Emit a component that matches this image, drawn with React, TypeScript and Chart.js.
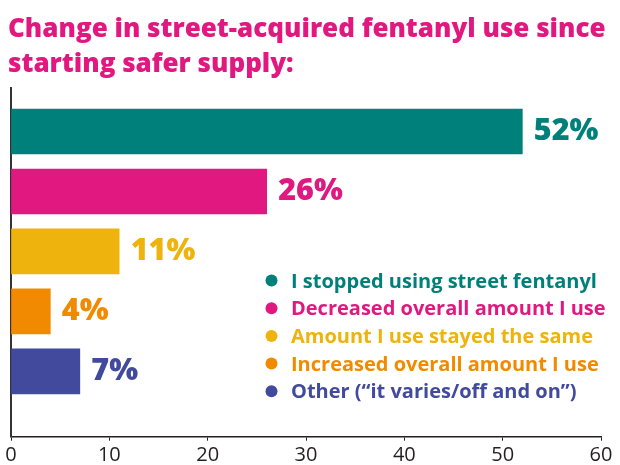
import React, { useEffect, useRef } from "react";
import { Chart, registerables } from "chart.js";

Chart.register(...registerables);

const titleLines = ["Change in street-acquired fentanyl use since", "starting safer supply:"];
const categories = [
  "I stopped using street fentanyl",
  "Decreased overall amount I use",
  "Amount I use stayed the same",
  "Increased overall amount I use",
  "Other (\u201cit varies/off and on\u201d)",
];
const values = [52, 26, 11, 4, 7];
const colors = ["#00807B", "#E1187F", "#EEB30C", "#F28A00", "#414A9C"];
const xTicks = [0, 10, 20, 30, 40, 50, 60];

const FONT = "'Open Sans', sans-serif";
const AXIS_COLOR = "#231F20";
const TITLE_COLOR = "#E1187F";

const titleDraw = {
  id: "titleDraw",
  afterDraw(chart: any) {
    const ctx = chart.ctx;
    ctx.save();
    ctx.font = `800 26px ${FONT}`;
    ctx.fillStyle = TITLE_COLOR;
    ctx.textBaseline = "alphabetic";
    ctx.textAlign = "left";
    titleLines.forEach((line, i) => {
      ctx.fillText(line, 8, 36.7 + i * 34.8);
    });
    ctx.restore();
  },
};

const valueLabels = {
  id: "valueLabels",
  afterDatasetsDraw(chart: any) {
    const ctx = chart.ctx;
    const meta = chart.getDatasetMeta(0);
    ctx.save();
    ctx.font = `800 30.5px ${FONT}`;
    ctx.textBaseline = "alphabetic";
    ctx.textAlign = "left";
    meta.data.forEach((el: any, i: number) => {
      ctx.fillStyle = colors[i];
      ctx.fillText(`${values[i]}%`, el.x + 11.5, el.y + 8.5);
    });
    ctx.restore();
  },
};

const sideLegend = {
  id: "sideLegend",
  afterDraw(chart: any) {
    const ctx = chart.ctx;
    const area = chart.chartArea;
    const cx = area.left + 260.5;
    const tx = area.left + 280;
    const y0 = area.top + 193;
    const step = 27.7;
    ctx.save();
    ctx.font = `700 20px ${FONT}`;
    ctx.textBaseline = "alphabetic";
    ctx.textAlign = "left";
    categories.forEach((c, i) => {
      const y = y0 + i * step;
      ctx.fillStyle = colors[i];
      ctx.beginPath();
      ctx.arc(cx, y, 6, 0, Math.PI * 2);
      ctx.fill();
      ctx.fillText(c, tx, y + 7);
    });
    ctx.restore();
  },
};

export default function App() {
  const ref = useRef<HTMLCanvasElement>(null);
  useEffect(() => {
    if (!ref.current) return;
    const chart = new Chart(ref.current, {
      type: "bar",
      data: {
        datasets: [
          {
            data: values.map((v, i) => ({ x: v, y: i })),
            backgroundColor: colors,
            borderWidth: 0,
            barThickness: 45,
          },
        ],
      },
      options: {
        indexAxis: "y",
        responsive: false,
        animation: false,
        layout: { padding: { left: 11, right: 19, top: 87.5, bottom: -5.3 } },
        scales: {
          x: {
            type: "linear",
            min: 0,
            max: 60,
            afterBuildTicks: (scale: any) => {
              scale.ticks = xTicks.map((v) => ({ value: v }));
            },
            grid: {
              display: true,
              drawOnChartArea: false,
              drawTicks: true,
              tickLength: 4,
              color: AXIS_COLOR,
              lineWidth: 1,
            },
            border: { display: true, color: AXIS_COLOR, width: 1.5 },
            ticks: {
              color: AXIS_COLOR,
              font: { family: FONT, size: 20, lineHeight: 1.0 },
              padding: 4.8,
              maxRotation: 0,
            },
          },
          y: {
            type: "linear",
            reverse: true,
            offset: false,
            min: -0.733,
            max: 5.088,
            grid: { display: false },
            border: { display: true, color: "#333333", width: 2 },
            ticks: { display: false },
            afterFit: (scale: any) => {
              scale.width = 0;
            },
          },
        },
        plugins: {
          legend: { display: false },
          tooltip: { enabled: false },
          title: { display: false },
        },
      },
      plugins: [titleDraw, valueLabels, sideLegend],
    });
    return () => chart.destroy();
  }, []);
  return (
    <div style={{ position: "fixed", left: 0, top: 0, width: 620, height: 465, background: "#fff" }}>
      <canvas ref={ref} width={620} height={465} />
    </div>
  );
}
